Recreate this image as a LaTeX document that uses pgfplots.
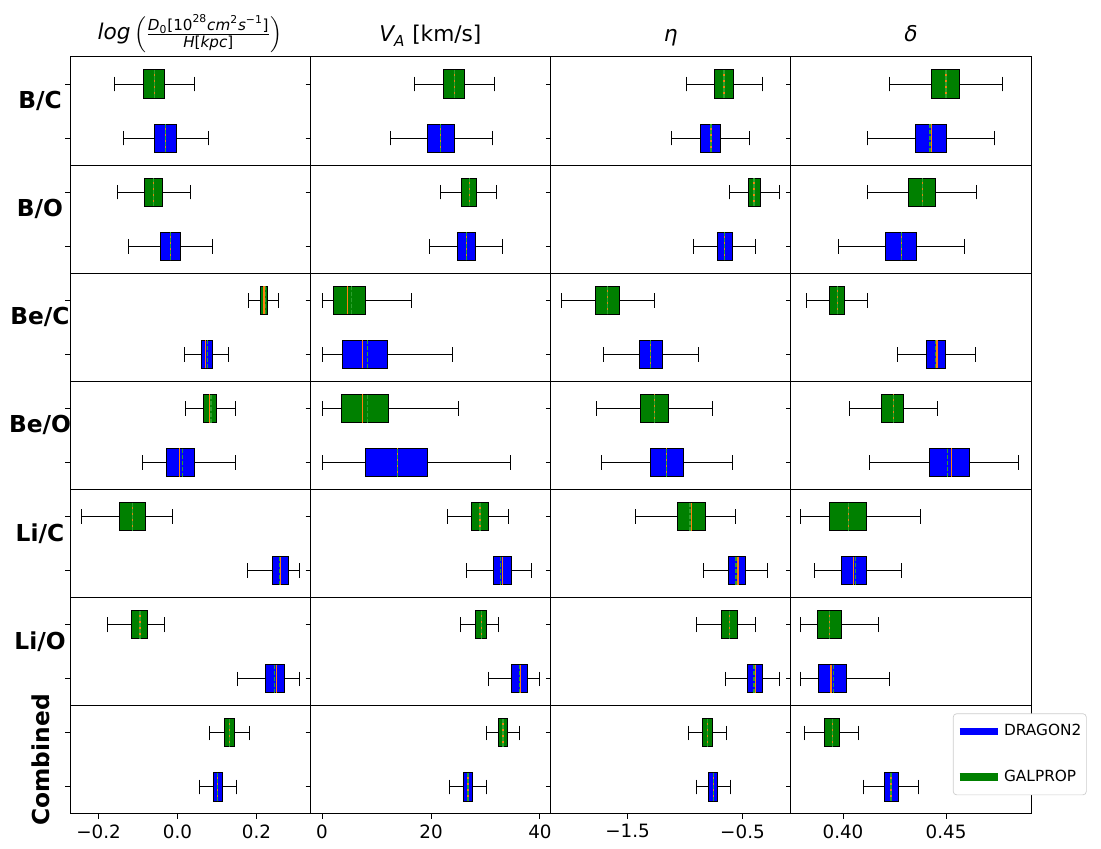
\documentclass[border=0pt]{standalone}
\usepackage{amsmath}
\usepackage{pgfplots}
\pgfplotsset{compat=1.18}
\usepgfplotslibrary{statistics}
\usepackage{fontspec}
\setmainfont{DejaVu Sans}
\definecolor{mplgreen}{HTML}{008000}
\definecolor{mplblue}{HTML}{0000FF}
\definecolor{mplorange}{HTML}{FF7F0E}
\definecolor{meangreen}{HTML}{2CA02C}
\newcommand{\G}[6]{\addplot[line width=0.6pt, draw=black, fill=mplgreen, forget plot, boxplot prepared={draw position=2, lower whisker=#1, lower quartile=#2, median=#3, average=#4, upper quartile=#5, upper whisker=#6}] coordinates {};}
\newcommand{\B}[6]{\addplot[line width=0.6pt, draw=black, fill=mplblue, forget plot, boxplot prepared={draw position=1, lower whisker=#1, lower quartile=#2, median=#3, average=#4, upper quartile=#5, upper whisker=#6}] coordinates {};}
\pgfplotsset{
  cell/.style={scale only axis, width=144.15pt, height=64.886pt, anchor=north west,
    ymin=0.5, ymax=2.5, ytick={1,2}, yticklabels={}, xtick=\empty,
    tick align=outside, ytick pos=left, xtick pos=bottom, major tick length=2.8pt,
    axis line style={line width=0.6pt},
    every tick/.append style={black, line width=0.6pt},
    boxplot/draw direction=x, boxplot/box extend=0.52, boxplot/whisker extend=0.27,
    boxplot/every median/.style={draw=mplorange, line width=0.7pt},
    boxplot/draw/average/.code={\draw[meangreen, line width=0.7pt, dash pattern=on 2.4pt off 1.2pt] (boxplot box cs:\pgfplotsboxplotvalue{average},0) -- (boxplot box cs:\pgfplotsboxplotvalue{average},1);},
    tick label style={font=\fontsize{11}{13}\selectfont},
    every axis title shift=0pt,
    title style={at={(0.5,1)}, anchor=base, yshift=9pt, font=\fontsize{13}{15}\selectfont},
  },
  c1/.style={xmin=-0.2722, xmax=0.3361},
  c2/.style={xmin=-2.16, xmax=41.93},
  c3/.style={xmin=-2.1696, xmax=-0.0804},
  c4/.style={xmin=0.37464, xmax=0.49126},
  c1b/.style={xtick={-0.2,0,0.2}, xticklabels={−0.2,0.0,0.2}},
  c2b/.style={xtick={0,20,40}, xticklabels={0,20,40}},
  c3b/.style={xtick={-1.5,-0.5}, xticklabels={−1.5,−0.5}},
  c4b/.style={xtick={0.40,0.45}, xticklabels={0.40,0.45}},
}
\begin{document}
\begin{tikzpicture}
\useasboundingbox (0pt,0pt) rectangle (660.6pt,508.8pt);
% ---------- Row 1: B/C
\begin{axis}[cell, c1, at={(42pt,474.6pt)}, title={$\text{\itshape log}\left(\frac{\text{\itshape D}_{\text{0}}\text{[10}^{\text{28}}\text{\itshape cm}^{\text{2}}\text{\itshape s}^{\text{−1}}\text{]}}{\text{\itshape H}\text{[}\text{\itshape kpc}\text{]}}\right)$}, title style={yshift=1.5pt}]
\G{-0.160}{-0.086}{-0.059}{-0.059}{-0.034}{0.042}
\B{-0.137}{-0.057}{-0.030}{-0.030}{-0.002}{0.078}
\end{axis}
\begin{axis}[cell, c2, at={(186.15pt,474.6pt)}, title={$\text{\itshape V}_{\text{\itshape A}}$ [km/s]}]
\G{16.9}{22.3}{24.3}{24.3}{26.1}{31.6}
\B{12.5}{19.4}{21.8}{21.8}{24.3}{31.3}
\end{axis}
\begin{axis}[cell, c3, at={(330.3pt,474.6pt)}, title={\itshape η}]
\G{-0.985}{-0.745}{-0.661}{-0.661}{-0.577}{-0.330}
\B{-1.119}{-0.864}{-0.774}{-0.774}{-0.690}{-0.435}
\end{axis}
\begin{axis}[cell, c4, at={(474.45pt,474.6pt)}, title={\itshape δ}]
\G{0.4227}{0.4431}{0.4500}{0.4500}{0.4566}{0.4772}
\B{0.4120}{0.4350}{0.4431}{0.4422}{0.4502}{0.4733}
\end{axis}
% ---------- Row 2: B/O
\begin{axis}[cell, c1, at={(42pt,409.71pt)}]
\G{-0.153}{-0.083}{-0.061}{-0.061}{-0.038}{0.032}
\B{-0.124}{-0.044}{-0.017}{-0.017}{0.008}{0.088}
\end{axis}
\begin{axis}[cell, c2, at={(186.15pt,409.71pt)}]
\G{21.8}{25.6}{27.0}{27.0}{28.3}{32.0}
\B{19.7}{24.8}{26.5}{26.5}{28.1}{33.2}
\end{axis}
\begin{axis}[cell, c3, at={(330.3pt,409.71pt)}]
\G{-0.615}{-0.449}{-0.400}{-0.400}{-0.342}{-0.180}
\B{-0.924}{-0.719}{-0.655}{-0.655}{-0.585}{-0.383}
\end{axis}
\begin{axis}[cell, c4, at={(474.45pt,409.71pt)}]
\G{0.4120}{0.4319}{0.4385}{0.4385}{0.4450}{0.4647}
\B{0.3977}{0.4204}{0.4282}{0.4282}{0.4358}{0.4589}
\end{axis}
% ---------- Row 3: Be/C
\begin{axis}[cell, c1, at={(42pt,344.83pt)}]
\G{0.180}{0.209}{0.219}{0.222}{0.227}{0.255}
\B{0.017}{0.060}{0.070}{0.075}{0.088}{0.130}
\end{axis}
\begin{axis}[cell, c2, at={(186.15pt,344.83pt)}]
\G{0.0}{2.08}{4.65}{5.4}{7.9}{16.5}
\B{0.0}{3.73}{7.4}{8.3}{12.0}{24.0}
\end{axis}
\begin{axis}[cell, c3, at={(330.3pt,344.83pt)}]
\G{-2.078}{-1.777}{-1.672}{-1.672}{-1.568}{-1.264}
\B{-1.710}{-1.400}{-1.298}{-1.298}{-1.194}{-0.881}
\end{axis}
\begin{axis}[cell, c4, at={(474.45pt,344.83pt)}]
\G{0.3822}{0.3933}{0.3972}{0.3972}{0.4008}{0.4120}
\B{0.4265}{0.4404}{0.4456}{0.4448}{0.4497}{0.4641}
\end{axis}
% ---------- Row 4: Be/O
\begin{axis}[cell, c1, at={(42pt,279.94pt)}]
\G{0.019}{0.065}{0.081}{0.085}{0.099}{0.148}
\B{-0.089}{-0.027}{0.005}{0.012}{0.044}{0.146}
\end{axis}
\begin{axis}[cell, c2, at={(186.15pt,279.94pt)}]
\G{0.0}{3.6}{7.4}{8.4}{12.2}{25.0}
\B{0.0}{7.9}{13.9}{13.9}{19.3}{34.5}
\end{axis}
\begin{axis}[cell, c3, at={(330.3pt,279.94pt)}]
\G{-1.774}{-1.391}{-1.264}{-1.264}{-1.142}{-0.765}
\B{-1.725}{-1.296}{-1.159}{-1.159}{-1.014}{-0.585}
\end{axis}
\begin{axis}[cell, c4, at={(474.45pt,279.94pt)}]
\G{0.4031}{0.4189}{0.4244}{0.4244}{0.4296}{0.4458}
\B{0.4131}{0.4421}{0.4528}{0.4508}{0.4613}{0.4854}
\end{axis}
% ---------- Row 5: Li/C
\begin{axis}[cell, c1, at={(42pt,215.06pt)}]
\G{-0.244}{-0.146}{-0.113}{-0.113}{-0.081}{-0.013}
\B{0.178}{0.241}{0.260}{0.259}{0.282}{0.309}
\end{axis}
\begin{axis}[cell, c2, at={(186.15pt,215.06pt)}]
\G{23.0}{27.5}{29.0}{29.0}{30.6}{34.3}
\B{26.5}{31.4}{33.1}{32.8}{34.7}{38.5}
\end{axis}
\begin{axis}[cell, c3, at={(330.3pt,215.06pt)}]
\G{-1.429}{-1.067}{-0.945}{-0.957}{-0.826}{-0.559}
\B{-0.843}{-0.623}{-0.539}{-0.557}{-0.476}{-0.284}
\end{axis}
\begin{axis}[cell, c4, at={(474.45pt,215.06pt)}]
\G{0.3795}{0.3934}{0.4026}{0.4026}{0.4112}{0.4374}
\B{0.3864}{0.3995}{0.4052}{0.4060}{0.4112}{0.4282}
\end{axis}
% ---------- Row 6: Li/O
\begin{axis}[cell, c1, at={(42pt,150.17pt)}]
\G{-0.178}{-0.117}{-0.095}{-0.095}{-0.076}{-0.032}
\B{0.151}{0.222}{0.251}{0.245}{0.271}{0.308}
\end{axis}
\begin{axis}[cell, c2, at={(186.15pt,150.17pt)}]
\G{25.4}{28.1}{29.2}{29.2}{30.2}{32.4}
\B{30.6}{34.8}{36.4}{36.3}{37.7}{39.9}
\end{axis}
\begin{axis}[cell, c3, at={(330.3pt,150.17pt)}]
\G{-0.898}{-0.687}{-0.615}{-0.615}{-0.545}{-0.385}
\B{-0.649}{-0.455}{-0.389}{-0.400}{-0.330}{-0.180}
\end{axis}
\begin{axis}[cell, c4, at={(474.45pt,150.17pt)}]
\G{0.3795}{0.3875}{0.3934}{0.3934}{0.3995}{0.4173}
\B{0.3795}{0.3880}{0.3942}{0.3953}{0.4019}{0.4228}
\end{axis}
% ---------- Row 7: Combined
\begin{axis}[cell, c1, c1b, at={(42pt,85.29pt)}]
\G{0.081}{0.120}{0.132}{0.132}{0.145}{0.183}
\B{0.055}{0.090}{0.102}{0.102}{0.115}{0.149}
\end{axis}
\begin{axis}[cell, c2, c2b, at={(186.15pt,85.29pt)}]
\G{30.2}{32.4}{33.2}{33.2}{34.0}{36.3}
\B{23.4}{25.9}{26.8}{26.8}{27.7}{30.2}
\end{axis}
\begin{axis}[cell, c3, c3b, at={(330.3pt,85.29pt)}]
\G{-0.972}{-0.844}{-0.808}{-0.808}{-0.757}{-0.643}
\B{-0.904}{-0.795}{-0.755}{-0.755}{-0.717}{-0.605}
\end{axis}
\begin{axis}[cell, c4, c4b, at={(474.45pt,85.29pt)},
  legend style={at={(0.675,0.93)}, anchor=north west, draw=black!20, rounded corners=2pt, fill=white,
    font=\fontsize{9.2}{11}\selectfont, row sep=16pt, inner xsep=1.5pt, inner ysep=5pt, nodes={inner sep=1.5pt}},
  legend cell align=left,
  legend image code/.code={\draw[#1] (0pt,0pt) -- (23pt,0pt);}]
\addlegendimage{mplblue, line width=4.5pt}
\addlegendentry{DRAGON2}
\addlegendimage{mplgreen, line width=4.5pt}
\addlegendentry{GALPROP}
\G{0.3814}{0.3911}{0.3947}{0.3947}{0.3982}{0.4077}
\B{0.4098}{0.4199}{0.4233}{0.4233}{0.4268}{0.4367}
\end{axis}
% ---------- row labels
\begin{scope}[every node/.style={inner sep=0pt, font=\fontsize{14}{16}\selectfont\bfseries}]
\node[anchor=south] at (24pt,442.16pt) {B/C};
\node[anchor=south] at (24pt,377.27pt) {B/O};
\node[anchor=south] at (24pt,312.39pt) {Be/C};
\node[anchor=south] at (24pt,247.50pt) {Be/O};
\node[anchor=south] at (24pt,182.61pt) {Li/C};
\node[anchor=south] at (24pt,117.73pt) {Li/O};
\node[rotate=90, anchor=center] at (24.6pt,52.84pt) {Combined};
\end{scope}
\end{tikzpicture}
\end{document}
